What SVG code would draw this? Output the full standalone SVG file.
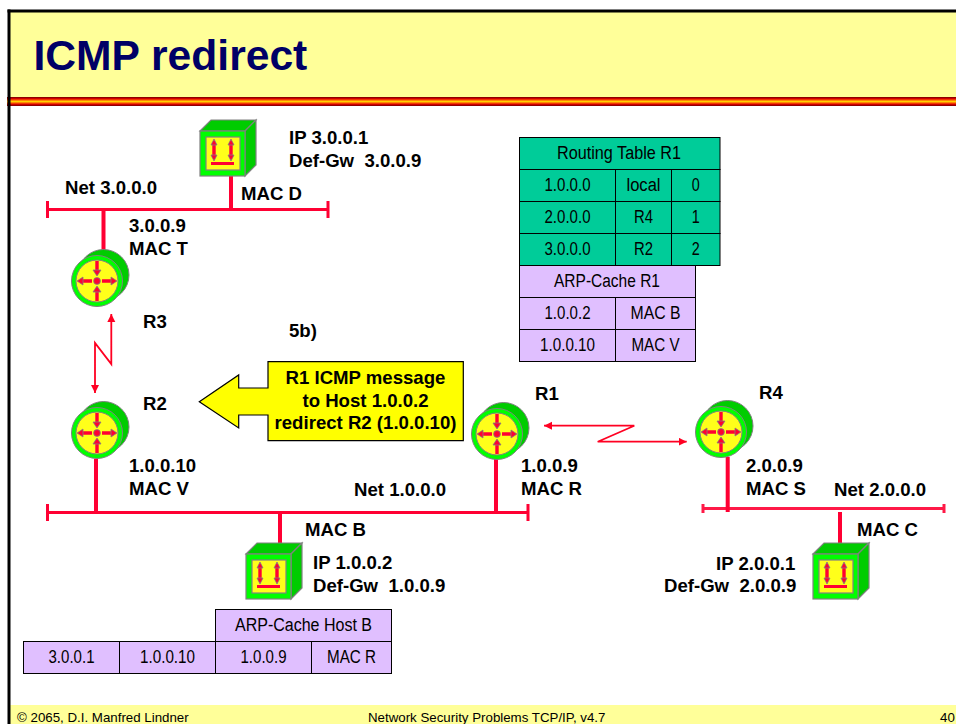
<svg xmlns="http://www.w3.org/2000/svg" xmlns:xlink="http://www.w3.org/1999/xlink" width="956" height="724" viewBox="0 0 956 724">
<style>
text{font-family:"Liberation Sans",Arial,sans-serif;fill:#000}
.l{font-size:18.6px;font-weight:bold}
.c{font-size:18.6px;font-weight:bold;text-anchor:middle}
.t{font-size:17.6px;text-anchor:middle}
.f{font-size:13.3px}
.g{fill:#00CC99;stroke:#000;stroke-width:1}
.p{fill:#E0BFFF;stroke:#000;stroke-width:1}
.w{stroke:#FF0033;stroke-width:4;fill:none}
.b{stroke:#FF0033;stroke-width:3;fill:none}
.z{stroke:#FF0022;stroke-width:1.8;fill:none;marker-start:url(#ah);marker-end:url(#ah)}
.ol{stroke:#808080;stroke-width:1.2}
.ar{stroke:#FF0033;stroke-width:3.4;fill:none}
.hd{fill:#FF0033;stroke:#808080;stroke-width:.8}
</style>
<defs>
<marker id="ah" markerUnits="userSpaceOnUse" markerWidth="10" markerHeight="10" refX="8" refY="4" orient="auto-start-reverse"><path d="M0,0L8,4L0,8Z" fill="#FF0022"/></marker>
<linearGradient id="band" x1="0" y1="0" x2="0" y2="1">
<stop offset="0" stop-color="#700000"/><stop offset=".2" stop-color="#E00000"/><stop offset=".38" stop-color="#FF8000"/><stop offset=".5" stop-color="#FFD000"/><stop offset=".62" stop-color="#FF8000"/><stop offset=".8" stop-color="#E00000"/><stop offset="1" stop-color="#700000"/>
</linearGradient>
<g id="router">
<circle cx="6.500" cy="-6" r="25.500" fill="#00CC00" stroke="#808080"/>
<circle cx="0" cy="0" r="25.500" fill="#00FF00" stroke="#808080"/>
<circle cx="0" cy="0" r="21" fill="#FFFF1A" stroke="#808080"/>
<circle cx="0" cy="0" r="3.400" class="hd"/>
<path class="ar" d="M0,-20V-7M0,20V7M-14,0H-5M14,0H5"/>
<path class="hd" d="M-4,-11H4L0,-5ZM-4,11H4L0,5ZM-20,0L-14,-4V4ZM20,0L14,-4V4Z"/>
</g>
<g id="host">
<path d="M0,0L11,-11H56L45,0Z" fill="#00CC00" class="ol"/>
<path d="M45,0L56,-11V34L45,45Z" fill="#00CC00" class="ol"/>
<rect x="0" y="0" width="45" height="45" fill="#00FF00" class="ol"/>
<rect x="6" y="6" width="34" height="33" fill="#FFFF1A" class="ol"/>
<path class="ar" d="M14,11V27M31,11V27"/>
<path class="hd" d="M14,8L11,14H17ZM14,30L11,24H17ZM31,8L28,14H34ZM31,30L28,24H34Z"/>
<rect x="11" y="31" width="23" height="3" fill="#FF0033"/>
</g>
</defs>
<rect width="956" height="724" fill="#fff"/>
<g id="frame">
<rect x="10" y="12" width="946" height="85" fill="#FFFF99"/>
<rect x="10" y="705" width="946" height="19" fill="#FFFF99"/>
<rect x="7" y="97" width="949" height="9" fill="url(#band)"/>
<rect x="7.500" y="9.500" width="3" height="715" fill="#000"/>
<rect x="7.500" y="9.500" width="949" height="3" fill="#000"/>
</g>
<text x="33.500" y="70" font-size="42.600" font-weight="bold" style="fill:#000066">ICMP redirect</text>
<g id="connectors">
<path class="b" d="M47.500,209.500H328M47.500,201V218M328,201V218"/>
<path class="w" d="M103.500,209V250M231,176V209"/>
<path class="b" d="M47.500,512.500H528M47.500,504V521M528,504V521"/>
<path class="w" d="M96,459V512M280,512V543M496,450V512"/>
<path class="b" stroke-opacity=".9" d="M703,508.500H944M703,504V513M944,504V513"/>
<path class="w" d="M727.700,457V512M840,512V543"/>
<path class="z" d="M111.300,314V364L95,343V393"/>
<path class="z" d="M544,425.700H634.300L597.700,441.700H686.700"/>
</g>
<g id="host-d"><use xlink:href="#host" href="#host" x="200" y="131"/></g>
<g id="host-b"><use xlink:href="#host" href="#host" x="246" y="554"/></g>
<g id="host-c"><use xlink:href="#host" href="#host" x="813" y="554"/></g>
<g id="r3"><use xlink:href="#router" href="#router" x="97" y="281"/></g>
<g id="r2"><use xlink:href="#router" href="#router" x="97" y="433"/></g>
<g id="r1"><use xlink:href="#router" href="#router" x="497" y="434"/></g>
<g id="r4"><use xlink:href="#router" href="#router" x="721" y="432"/></g>
<g id="callout">
<path d="M199.300,401.700L238.700,375V388H268V361.700H463.300V440.700H268V415H238.700V428Z" fill="#FFFF00" stroke="#000" stroke-width="1.200"/>
<text class="c" x="365.500" y="384">R1 ICMP message</text>
<text class="c" x="365.500" y="407">to Host 1.0.0.2</text>
<text class="c" x="365.500" y="429">redirect R2 (1.0.0.10)</text>
</g>
<g id="labels">
<text class="l" x="289" y="144">IP 3.0.0.1</text>
<text class="l" x="289" y="167" xml:space="preserve">Def-Gw  3.0.0.9</text>
<text class="l" x="65" y="194">Net 3.0.0.0</text>
<text class="l" x="241" y="200">MAC D</text>
<text class="l" x="129" y="232">3.0.0.9</text>
<text class="l" x="129" y="255">MAC T</text>
<text class="l" x="143" y="327.500">R3</text>
<text class="l" x="289" y="337">5b)</text>
<text class="l" x="143" y="410">R2</text>
<text class="l" x="129" y="472">1.0.0.10</text>
<text class="l" x="129" y="495">MAC V</text>
<text class="l" x="535" y="400">R1</text>
<text class="l" x="759" y="399">R4</text>
<text class="l" x="521" y="472">1.0.0.9</text>
<text class="l" x="521" y="495">MAC R</text>
<text class="l" x="746" y="472">2.0.0.9</text>
<text class="l" x="746" y="495">MAC S</text>
<text class="l" x="834" y="496">Net 2.0.0.0</text>
<text class="l" x="354" y="496">Net 1.0.0.0</text>
<text class="l" x="305" y="536">MAC B</text>
<text class="l" x="857" y="536">MAC C</text>
<text class="l" x="313" y="569">IP 1.0.0.2</text>
<text class="l" x="313" y="592" xml:space="preserve">Def-Gw  1.0.0.9</text>
<text class="l" x="716" y="570">IP 2.0.0.1</text>
<text class="l" x="664" y="592" xml:space="preserve">Def-Gw  2.0.0.9</text>
</g>
<g id="routing-table">
<rect class="g" x="519.500" y="137.500" width="200.500" height="32"/>
<rect class="g" x="519.500" y="169.500" width="96" height="32"/><rect class="g" x="615.500" y="169.500" width="56" height="32"/><rect class="g" x="671.500" y="169.500" width="48.500" height="32"/>
<rect class="g" x="519.500" y="201.500" width="96" height="32"/><rect class="g" x="615.500" y="201.500" width="56" height="32"/><rect class="g" x="671.500" y="201.500" width="48.500" height="32"/>
<rect class="g" x="519.500" y="233.500" width="96" height="32"/><rect class="g" x="615.500" y="233.500" width="56" height="32"/><rect class="g" x="671.500" y="233.500" width="48.500" height="32"/>
<text class="t" x="619" y="158.500" textLength="124" lengthAdjust="spacingAndGlyphs">Routing Table R1</text>
<text class="t" x="567.500" y="190.500" textLength="46" lengthAdjust="spacingAndGlyphs">1.0.0.0</text><text class="t" x="643.500" y="190.500" textLength="34" lengthAdjust="spacingAndGlyphs">local</text><text class="t" x="695.700" y="190.500" textLength="8" lengthAdjust="spacingAndGlyphs">0</text>
<text class="t" x="567.500" y="222.500" textLength="46" lengthAdjust="spacingAndGlyphs">2.0.0.0</text><text class="t" x="643.500" y="222.500" textLength="19" lengthAdjust="spacingAndGlyphs">R4</text><text class="t" x="695.700" y="222.500" textLength="8" lengthAdjust="spacingAndGlyphs">1</text>
<text class="t" x="567.500" y="254.500" textLength="46" lengthAdjust="spacingAndGlyphs">3.0.0.0</text><text class="t" x="643.500" y="254.500" textLength="19" lengthAdjust="spacingAndGlyphs">R2</text><text class="t" x="695.700" y="254.500" textLength="8" lengthAdjust="spacingAndGlyphs">2</text>
</g>
<g id="arp-r1">
<rect class="p" x="519.500" y="265.500" width="176" height="32"/>
<rect class="p" x="519.500" y="297.500" width="96" height="32"/><rect class="p" x="615.500" y="297.500" width="80" height="32"/>
<rect class="p" x="519.500" y="329.500" width="96" height="32"/><rect class="p" x="615.500" y="329.500" width="80" height="32"/>
<text class="t" x="607" y="286.500" textLength="106" lengthAdjust="spacingAndGlyphs">ARP-Cache R1</text>
<text class="t" x="567.500" y="318.500" textLength="46" lengthAdjust="spacingAndGlyphs">1.0.0.2</text><text class="t" x="655.500" y="318.500" textLength="50" lengthAdjust="spacingAndGlyphs">MAC B</text>
<text class="t" x="567.500" y="350.500" textLength="55" lengthAdjust="spacingAndGlyphs">1.0.0.10</text><text class="t" x="655.500" y="350.500" textLength="48" lengthAdjust="spacingAndGlyphs">MAC V</text>
</g>
<g id="arp-host-b">
<rect class="p" x="215.500" y="609.500" width="176" height="32"/>
<rect class="p" x="23.500" y="641.500" width="96" height="32"/><rect class="p" x="119.500" y="641.500" width="96" height="32"/><rect class="p" x="215.500" y="641.500" width="96" height="32"/><rect class="p" x="311.500" y="641.500" width="80" height="32"/>
<text class="t" x="303.500" y="631" textLength="137" lengthAdjust="spacingAndGlyphs">ARP-Cache Host B</text>
<text class="t" x="71.500" y="663" textLength="46" lengthAdjust="spacingAndGlyphs">3.0.0.1</text><text class="t" x="167.500" y="663" textLength="55" lengthAdjust="spacingAndGlyphs">1.0.0.10</text><text class="t" x="263.500" y="663" textLength="46" lengthAdjust="spacingAndGlyphs">1.0.0.9</text><text class="t" x="351.500" y="663" textLength="49" lengthAdjust="spacingAndGlyphs">MAC R</text>
</g>
<g id="footer">
<text class="f" x="17" y="722">© 2065, D.I. Manfred Lindner</text>
<text class="f" x="368" y="722">Network Security Problems TCP/IP, v4.7</text>
<text class="f" x="940" y="722">40</text>
</g>
</svg>
